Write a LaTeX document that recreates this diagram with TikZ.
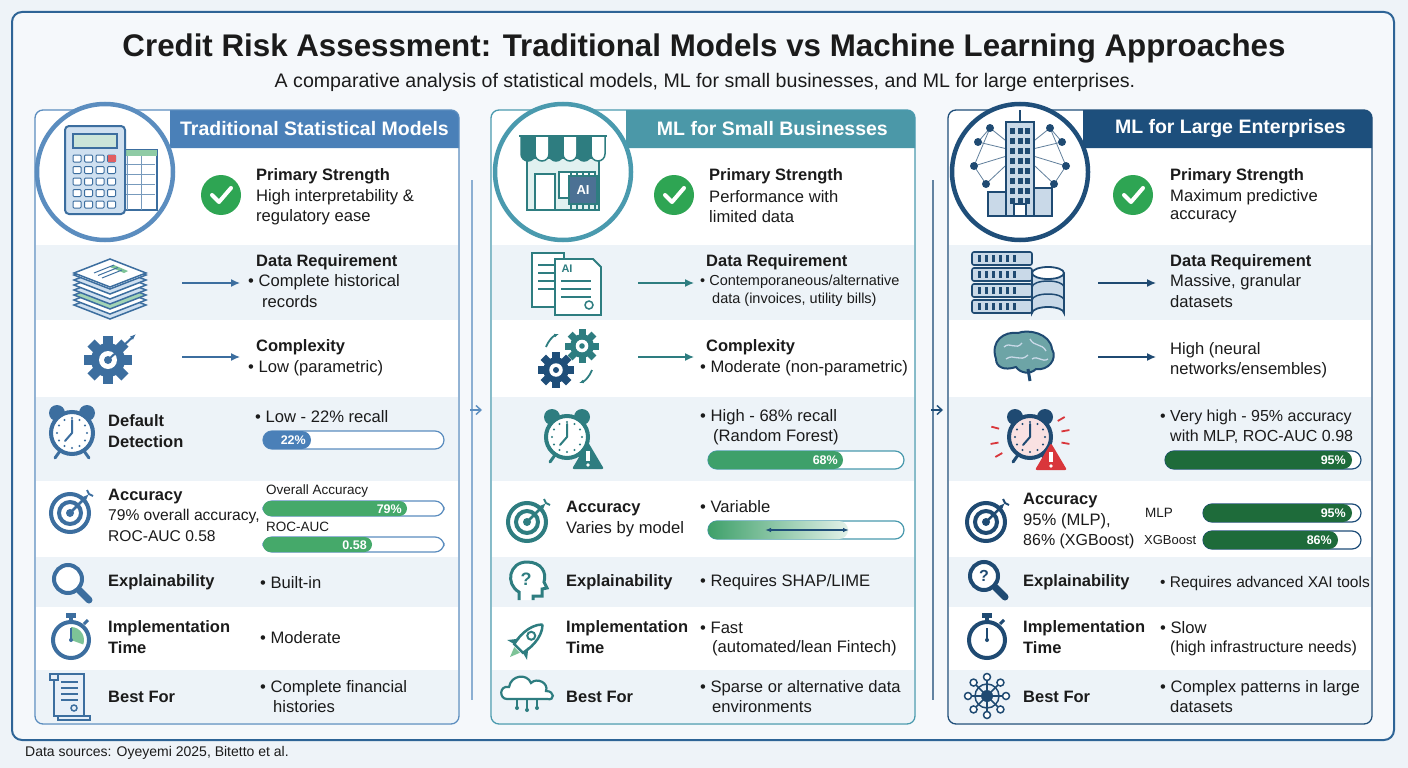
\documentclass[tikz,border=0pt]{standalone}
\usepackage{fontspec}
\setmainfont{Liberation Sans}
\usetikzlibrary{arrows.meta,calc}
\definecolor{bgc}{HTML}{EEF3F8}
\definecolor{framec}{HTML}{2E6496}
\definecolor{lightrow}{HTML}{EDF3F8}
\definecolor{txc}{HTML}{1B1B1B}
\definecolor{ca}{HTML}{3C6E9F}
\definecolor{cb}{HTML}{2E7D80}
\definecolor{cc}{HTML}{1F4A72}
\definecolor{cal}{HTML}{CFE0F0}
\definecolor{cbl}{HTML}{CDE8E6}
\definecolor{ccl}{HTML}{C9D9E8}
\definecolor{ha}{HTML}{4A80B8}
\definecolor{hb}{HTML}{4B98A8}
\definecolor{hc}{HTML}{1D4F7C}
\definecolor{pa}{HTML}{5B8DBF}
\definecolor{pb}{HTML}{4A9AAE}
\definecolor{pc}{HTML}{1F4E79}
\definecolor{ga}{HTML}{45A96A}
\definecolor{gb}{HTML}{3EA06A}
\definecolor{gc}{HTML}{1E6B3A}
\definecolor{chk}{HTML}{2EA553}
\definecolor{warnred}{HTML}{D9363B}
\tikzset{
  tx/.style={anchor=west, inner sep=0pt, text=txc, font=\fontsize{16.6}{18}\selectfont},
  lb/.style={anchor=west, inner sep=0pt, text=txc, font=\fontsize{16.5}{18}\selectfont\bfseries},
  sm/.style={anchor=west, inner sep=0pt, text=txc, font=\fontsize{13.5}{15}\selectfont},
  hdrtxt/.style={anchor=east, inner sep=0pt, text=white, font=\fontsize{19.5}{21}\selectfont\bfseries},
  bartrack/.style={draw=#1, line width=1.2pt, fill=white, rounded corners=9pt},
  barlbl/.style={anchor=east, inner sep=0pt, text=white, font=\fontsize{12.5}{14}\selectfont\bfseries},
  flowarrow/.style={-{Latex[length=9pt,width=8pt]}, line width=1.4pt, draw=#1},
  sepline/.style={draw=#1, line width=1.2pt},
}
% icons
\newcommand{\ICheck}[2]{\begin{scope}[shift={(#1,#2)}]
 \fill[chk] (0,0) circle (20);
 \draw[white, line width=4pt, line cap=round, line join=round] (-9,0)--(-2,7)--(10,-7);
\end{scope}}
\newcommand{\IGear}[4]{\begin{scope}[shift={(#1,#2)}, scale=#4]
 \fill[#3] (0,0) circle (17);
 \foreach \a in {0,45,...,315} \fill[#3,rotate=\a] (-5,-24) rectangle (5,-12);
 \fill[white] (0,0) circle (9);
 \fill[#3] (0,0) circle (4);
\end{scope}}
\newcommand{\IAlarm}[4]{\begin{scope}[shift={(#1,#2)}]
 \fill[#3] (-15,-20) circle (8); \fill[#3] (15,-20) circle (8);
 \draw[#3, line width=3pt, line cap=round] (-12,18)--(-17,25) (12,18)--(17,25);
 \draw[#3, line width=4pt, fill=#4] (0,0) circle (21);
 \foreach \a in {0,30,...,330} \fill[#3] (\a:15) circle (1.2);
 \draw[#3, line width=2pt, line cap=round] (0,0)--(0,-13) (0,0)--(-7,8);
\end{scope}}
\newcommand{\IWarn}[3]{\begin{scope}[shift={(#1,#2)}]
 \fill[#3, rounded corners=2pt] (0,-15)--(16,12)--(-16,12)--cycle;
 \fill[white] (-1.8,-6) rectangle (1.8,4); \fill[white] (0,8) circle (1.9);
\end{scope}}
\newcommand{\ITarget}[3]{\begin{scope}[shift={(#1,#2)}]
 \draw[#3, line width=4pt] (0,0) circle (19);
 \draw[#3, line width=4pt] (0,0) circle (11);
 \fill[#3] (0,0) circle (4);
 \draw[#3, line width=2.5pt, -{Latex[length=6pt]}] (0,0)--(19,-19);
 \draw[#3, line width=2pt] (17,-23)--(19,-19)--(23,-17);
\end{scope}}
\newcommand{\IMag}[3]{\begin{scope}[shift={(#1,#2)}]
 \draw[#3, line width=4pt, fill=white] (-4,-4) circle (14);
 \draw[#3, line width=7pt, line cap=round] (7,7)--(17,17);
\end{scope}}
\newcommand{\IWatch}[4]{\begin{scope}[shift={(#1,#2)}]
 \fill[#3] (-5,-27) rectangle (5,-22); \fill[#3] (-2,-23) rectangle (2,-18);
 \draw[#3, line width=3pt] (13,-16)--(17,-20);
 \draw[#3, line width=4pt, fill=white] (0,0) circle (18);
 \fill[#4] (0,0)--(-90:13) arc[start angle=-90, end angle=20, radius=13]--cycle;
 \draw[#3, line width=2pt] (0,0)--(0,-12); \fill[#3] (0,0) circle (2);
\end{scope}}
\newcommand{\IScroll}[3]{\begin{scope}[shift={(#1,#2)}]
 \draw[#3, line width=2pt, fill=cal!50] (-16,-22) rectangle (14,20);
 \draw[#3, line width=2pt, fill=cal!50] (-12,20) -- (20,20) -- (20,24) -- (-12,24) -- cycle;
 \draw[#3, line width=2pt, fill=cal!50] (-20,-22) rectangle (-12,-16);
 \foreach \yy in {-14,-8,-2,4} \draw[#3, line width=1.5pt] (-9,\yy)--(8,\yy);
 \draw[#3, line width=1.5pt] (4,12) circle (3);
\end{scope}}
\newcommand{\IStack}[1]{\begin{scope}[shift={(#1)}]
 \foreach \k/\f in {6/cal,5/white,4/ga!50,3/cal,2/white,1/cal,0/white}
   \draw[ca, line width=1.5pt, fill=\f] (-36,{-10+5*\k}) -- (0,{-24+5*\k}) -- (36,{-10+5*\k}) -- (0,{4+5*\k}) -- cycle;
 \draw[ca, line width=1.5pt, fill=white] (-36,-12) -- (0,-26) -- (36,-12) -- (0,2) -- cycle;
 \fill[ga!70] (4,-20)--(18,-14)--(14,-12)--(0,-18)--cycle;
 \foreach \k in {0,1,2} \draw[ca, line width=1pt] ({-16+4*\k},{-12+2.5*\k})--({4+4*\k},{-20+2.5*\k});
\end{scope}}
\begin{document}
\begin{tikzpicture}[x=1pt, y=-1pt]
\useasboundingbox (0,0) rectangle (1408,768);
\fill[bgc] (0,0) rectangle (1408,768);
\draw[framec, line width=2pt, fill=bgc!60!white, rounded corners=10pt] (12,12) rectangle (1394,740);
\node[font=\fontsize{31.3}{34}\selectfont\bfseries, text=txc] (title) at (704,48) {Credit Risk Assessment: Traditional Models vs Machine Learning Approaches};
\node[font=\fontsize{19.6}{22}\selectfont, text=txc] (subtitle) at (705,82) {A comparative analysis of statistical models, ML for small businesses, and ML for large enterprises.};
\node[anchor=west, inner sep=0pt, text=txc, font=\fontsize{14}{16}\selectfont] (src) at (25,753) {Data sources: Oyeyemi 2025, Bitetto et al.};

% panel frames and bands
\foreach \x/\pc/\hc/\hx in {35/pa/ha/170, 491/pb/hb/626, 948/pc/hc/1083} {
  \fill[white, rounded corners=8pt] (\x,110) rectangle (\x+424,724);
  \fill[\hc] (\hx,148) -- (\hx,110) [rounded corners=8pt]-- (\x+424,110) [sharp corners]-- (\x+424,148) -- cycle;
  \foreach \ya/\yb in {245/320, 397/481, 557/607}
     \fill[lightrow] (\x+1,\ya) rectangle (\x+423,\yb);
  \fill[lightrow] (\x+1,670) -- (\x+423,670) [rounded corners=7pt]-- (\x+423,723) -- (\x+1,723) [sharp corners]-- cycle;
  \draw[\pc, line width=1.3pt, rounded corners=8pt] (\x,110) rectangle (\x+424,724);
}
\node[hdrtxt] (h1) at (449,129) {Traditional Statistical Models};
\node[hdrtxt] (h2) at (888,129) {ML for Small Businesses};
\node[hdrtxt] (h3) at (1346,129) {ML for Large Enterprises};

% connectors between panels
\coordinate (s1a) at (472,180); \coordinate (s1b) at (472,700);
\coordinate (s1c) at (470,410); \coordinate (s1d) at (482,410);
\draw[sepline=pa!70] (s1a) -- (s1b);
\draw[-{Straight Barb[length=5pt,width=9pt]}, pa, line width=1.4pt] (s1c) -- (s1d);
\coordinate (s2a) at (933,180); \coordinate (s2b) at (933,700);
\coordinate (s2c) at (931,410); \coordinate (s2d) at (943,410);
\draw[sepline=pc!70] (s2a) -- (s2b);
\draw[-{Straight Barb[length=5pt,width=9pt]}, pc, line width=1.4pt] (s2c) -- (s2d);

%================ PANEL 1
\draw[pa, line width=4.5pt, fill=white] (105,172) circle (68);
\begin{scope}[shift={(105,172)}]
 \draw[ca, line width=1.5pt, fill=white] (8,-22) rectangle (52,38);
 \fill[ga!60] (8,-22) rectangle (52,-16);
 \foreach \yy in {-8,2,12,22} \draw[ca!70, line width=0.8pt] (10,\yy)--(50,\yy);
 \draw[ca!70, line width=0.8pt] (22,-16)--(22,38) (36,-16)--(36,38);
 \draw[ca, line width=2pt, fill=cal, rounded corners=4pt] (-40,-46) rectangle (20,42);
 \fill[cal!40!ga!40, draw=ca, line width=1.5pt] (-32,-38) rectangle (12,-24);
 \foreach \i in {0,1,2,3} \foreach \j in {0,1,2,3,4} {
   \fill[draw=ca, line width=1pt, fill=white, rounded corners=1pt] ({-32+\i*11.5},{-17+\j*11.5}) rectangle ({-24+\i*11.5},{-10+\j*11.5});
 }
 \fill[warnred!80] (2.5,-17) rectangle (10.5,-10);
\end{scope}
\ICheck{221}{195}
\node[lb] (p1s) at (256,176) {Primary Strength};
\node[tx] (p1s2) at (256,197) {High interpretability \&};
\node[tx] (p1s3) at (256,217) {regulatory ease};
% data req
\IStack{110,285}
\coordinate (a1s) at (182,283); \coordinate (a1e) at (240,283);
\draw[flowarrow=ca] (a1s) -- (a1e);
\node[lb] (p1d) at (256,262) {Data Requirement};
\node[tx] (p1d2) at (248,282) {\textbullet\ Complete historical};
\node[tx] (p1d3) at (262,302) {records};
% complexity
\IGear{108}{360}{ca}{1}
\draw[ca, line width=2pt, -{Latex[length=6pt]}] (108,360)--(136,334);
\coordinate (b1s) at (182,357); \coordinate (b1e) at (240,357);
\draw[flowarrow=ca] (b1s) -- (b1e);
\node[lb] (p1c) at (256,347) {Complexity};
\node[tx] (p1c2) at (248,368) {\textbullet\ Low (parametric)};
% default
\IAlarm{72}{433}{ca}{white}
\node[lb] (p1f) at (108,421) {Default};
\node[lb] (p1f2) at (108,442) {Detection};
\node[tx] (p1f3) at (255,417) {\textbullet\ Low - 22\% recall};
\draw[bartrack=pa] (263,431) rectangle (444,449);
\fill[ha, rounded corners=9pt] (263,431) rectangle (311,449);
\node[barlbl] (p1fb) at (306,440) {22\%};
% accuracy
\ITarget{70}{513}{ca}
\node[lb] (p1a) at (108,497) {Accuracy};
\node[tx, font=\fontsize{15.6}{17}\selectfont] (p1a2) at (108,516) {79\% overall accuracy,};
\node[tx, font=\fontsize{15.6}{17}\selectfont] (p1a3) at (108,536) {ROC-AUC 0.58};
\node[sm] (p1a4) at (266,491) {Overall Accuracy};
\draw[bartrack=pa] (263,501) rectangle (444,516);
\fill[ga, rounded corners=7.5pt] (263,501) rectangle (407,516);
\node[barlbl] (p1ab) at (402,509) {79\%};
\node[sm] (p1a5) at (266,527) {ROC-AUC};
\draw[bartrack=pa] (263,537) rectangle (444,552);
\fill[ga, rounded corners=7.5pt] (263,537) rectangle (372,552);
\node[barlbl] (p1ab2) at (367,545) {0.58};
% explain
\IMag{72}{583}{ca}
\node[lb] (p1e) at (108,582) {Explainability};
\node[tx] (p1e2) at (260,583) {\textbullet\ Built-in};
% impl
\IWatch{71}{640}{ca}{ga!70}
\node[lb] (p1i) at (108,628) {Implementation};
\node[lb] (p1i2) at (108,648) {Time};
\node[tx] (p1i3) at (260,638) {\textbullet\ Moderate};
% best
\IScroll{70}{696}{ca}
\node[lb] (p1b) at (108,697) {Best For};
\node[tx] (p1b2) at (260,688) {\textbullet\ Complete financial};
\node[tx] (p1b3) at (273,707) {histories};

%================ PANEL 2
\draw[pb, line width=4.5pt, fill=white] (563,172) circle (68);
\begin{scope}[shift={(563,172)}]
 \draw[cb, line width=2pt, fill=cbl!60] (-36,-14) rectangle (36,38);
 \foreach \i in {0,...,5} {
   \pgfmathsetmacro{\xa}{-42+\i*14}
   \ifodd\i \def\fc{white}\else\def\fc{cb}\fi
   \draw[cb, line width=1.5pt, fill=\fc] (\xa,-36) -- (\xa+14,-36) -- (\xa+14,-18) arc[start angle=0,end angle=180,radius=7] -- cycle;
 }
 \draw[cb, line width=2pt] (-44,-36)--(44,-36);
 \draw[cb, line width=2pt, fill=white] (-28,2) rectangle (-8,38);
 \draw[cb, line width=2pt, fill=white] (-4,0) rectangle (32,26);
 \draw[cb, line width=2pt, fill=pc!80] (6,4) rectangle (34,32);
 \foreach \t in {8,14,20,26,32} { \draw[cb, line width=1.2pt] (\t,4)--(\t,-1) (\t,32)--(\t,37); }
 \node[text=white, font=\fontsize{13}{14}\selectfont\bfseries] (p2ai) at (20,18) {AI};
\end{scope}
\ICheck{674}{195}
\node[lb] (p2s) at (709,176) {Primary Strength};
\node[tx] (p2s2) at (709,197) {Performance with};
\node[tx] (p2s3) at (709,217) {limited data};
% data
\begin{scope}[shift={(567,283)}]
 \draw[cb, line width=1.8pt, fill=white] (-35,-30) rectangle (-3,24);
 \foreach \yy in {-18,-10,-2,6} \draw[cb, line width=1.5pt] (-29,\yy)--(-9,\yy);
 \draw[cb, line width=1.8pt, fill=white] (-12,-24) -- (26,-24) -- (34,-16) -- (34,32) -- (-12,32) -- cycle;
 \node[text=cb, font=\fontsize{11}{12}\selectfont\bfseries] (p2docai) at (0,-14) {AI};
 \foreach \yy in {-2,6,14} \draw[cb, line width=1.5pt] (-6,\yy)--(24,\yy);
 \draw[cb, line width=1.5pt] (22,22) circle (4);
\end{scope}
\coordinate (a2s) at (638,283); \coordinate (a2e) at (694,283);
\draw[flowarrow=cb] (a2s) -- (a2e);
\node[lb] (p2d) at (706,262) {Data Requirement};
\node[tx, font=\fontsize{14.5}{16}\selectfont] (p2d2) at (700,282) {\textbullet\ Contemporaneous/alternative};
\node[tx, font=\fontsize{14.5}{16}\selectfont] (p2d3) at (712,300) {data (invoices, utility bills)};
% complexity
\IGear{582}{346}{cb}{0.7}
\IGear{556}{370}{pc}{0.75}
\draw[cb, line width=1.8pt, -{Latex[length=5pt]}] (546,347) arc[start angle=200, end angle=250, radius=22];
\draw[cb, line width=1.8pt, -{Latex[length=5pt]}] (592,370) arc[start angle=20, end angle=70, radius=22];
\coordinate (b2s) at (638,357); \coordinate (b2e) at (694,357);
\draw[flowarrow=cb] (b2s) -- (b2e);
\node[lb] (p2c) at (706,347) {Complexity};
\node[tx] (p2c2) at (700,368) {\textbullet\ Moderate (non-parametric)};
% default
\IAlarm{567}{437}{cb}{white}
\IWarn{588}{457}{cb}
\node[tx] (p2f) at (700,417) {\textbullet\ High - 68\% recall};
\node[tx] (p2f2) at (713,437) {(Random Forest)};
\draw[bartrack=pb] (708,451) rectangle (904,469);
\fill[gb, rounded corners=9pt] (708,451) rectangle (843,469);
\node[barlbl] (p2fb) at (838,460) {68\%};
% accuracy
\ITarget{527}{522}{cb}
\node[lb] (p2a) at (566,509) {Accuracy};
\node[tx] (p2a2) at (566,529) {Varies by model};
\node[tx] (p2a3) at (700,507) {\textbullet\ Variable};
\draw[bartrack=pb] (708,521) rectangle (904,539);
\shade[left color=gb, right color=gb!15, rounded corners=9pt] (708,521) rectangle (848,539);
\coordinate (va) at (765,530); \coordinate (vb) at (849,530);
\draw[{Latex[length=6pt]}-{Latex[length=6pt]}, pc, line width=1.6pt] (va) -- (vb);
% explain
\begin{scope}[shift={(527,582)}]
 \draw[cb, line width=3pt, fill=white] (-8,18) -- (-8,10) .. controls (-22,2) and (-18,-20) .. (0,-20) .. controls (14,-20) and (20,-10) .. (17,0) -- (20,6) -- (15,7) -- (15,14) -- (6,14) -- (6,18);
 \node[text=cb, font=\fontsize{18}{18}\selectfont\bfseries] (p2q) at (-1,-3) {?};
\end{scope}
\node[lb] (p2e) at (566,582) {Explainability};
\node[tx] (p2e2) at (700,582) {\textbullet\ Requires SHAP/LIME};
% impl
\begin{scope}[shift={(527,640)}, rotate=-45]
 \draw[cb, line width=2.5pt, fill=white] (0,-22) .. controls (10,-12) and (8,6) .. (6,12) -- (-6,12) .. controls (-8,6) and (-10,-12) .. (0,-22);
 \draw[cb, line width=2pt] (0,-6) circle (4);
 \fill[cb] (-6,4) -- (-14,14) -- (-6,12) -- cycle; \fill[cb] (6,4) -- (14,14) -- (6,12) -- cycle;
 \fill[ga!70] (-4,14) -- (0,24) -- (4,14) -- cycle;
\end{scope}
\node[lb] (p2i) at (566,628) {Implementation};
\node[lb] (p2i2) at (566,648) {Time};
\node[tx] (p2i3) at (700,628) {\textbullet\ Fast};
\node[tx] (p2i4) at (712,648) {(automated/lean Fintech)};
% best
\begin{scope}[shift={(527,693)}]
 \draw[cb, line width=2.2pt, fill=white] (-20,6) .. controls (-28,6) and (-28,-8) .. (-18,-6) .. controls (-16,-18) and (0,-20) .. (4,-10) .. controls (10,-16) and (22,-10) .. (19,-2) .. controls (28,-2) and (28,8) .. (20,6) -- cycle;
 \draw[cb, line width=1.5pt] (-10,6)--(-10,14) (0,6)--(0,16) (10,6)--(10,14);
 \fill[cb] (-10,15) circle (2) (0,17) circle (2) (10,15) circle (2);
\end{scope}
\node[lb] (p2b) at (566,697) {Best For};
\node[tx] (p2b2) at (700,688) {\textbullet\ Sparse or alternative data};
\node[tx] (p2b3) at (712,707) {environments};

%================ PANEL 3
\draw[pc, line width=4.5pt, fill=white] (1020,172) circle (68);
\begin{scope}[shift={(1020,172)}]
 \foreach \p in {(-42,-30),(-30,-44),(-46,-6),(-34,12),(42,-30),(30,-44),(46,-6),(34,12)} \draw[cc!70, line width=0.8pt] \p -- (0,-20);
 \draw[cc!70, line width=0.8pt] (-42,-30)--(-30,-44)--(-46,-6)--(-34,12) (42,-30)--(30,-44)--(46,-6)--(34,12);
 \foreach \p in {(-42,-30),(-30,-44),(-46,-6),(-34,12),(42,-30),(30,-44),(46,-6),(34,12)} \fill[cc] \p circle (4);
 \draw[cc, line width=2pt, fill=ccl] (-14,-50) -- (14,-50) -- (14,44) -- (-14,44) -- cycle;
 \draw[cc, line width=2pt] (0,-62)--(0,-50);
 \foreach \j in {0,...,7} \foreach \i in {0,1,2} \fill[cc] ({-10+\i*7.5},{-44+\j*10}) rectangle ({-5+\i*7.5},{-38+\j*10});
 \draw[cc, line width=2pt, fill=ccl] (-32,20) rectangle (-14,44);
 \draw[cc, line width=2pt, fill=ccl] (14,16) rectangle (32,44);
 \draw[cc, line width=2pt, fill=white] (-6,32) rectangle (6,44);
\end{scope}
\ICheck{1133}{195}
\node[lb] (p3s) at (1170,176) {Primary Strength};
\node[tx] (p3s2) at (1170,197) {Maximum predictive};
\node[tx] (p3s3) at (1170,217) {accuracy};
% data
\begin{scope}[shift={(1022,285)}]
 \foreach \k in {0,1,2,3} {
   \draw[cc, line width=1.6pt, fill=ccl, rounded corners=2pt] (-50,{-33+\k*16}) rectangle (10,{-20+\k*16});
   \foreach \i in {0,...,5} \fill[cc] ({-44+\i*7},{-30+\k*16}) rectangle ({-41+\i*7},{-23+\k*16});
 }
 \draw[cc, line width=1.8pt, fill=ccl] (10,-12) -- (10,28) arc[start angle=180, end angle=0, x radius=16, y radius=-6] -- (42,-12);
 \draw[cc, line width=1.8pt, fill=white] (26,-12) ellipse (16 and 6);
 \draw[cc, line width=1.5pt] (10,2) arc[start angle=180, end angle=0, x radius=16, y radius=-6];
 \draw[cc, line width=1.5pt] (10,15) arc[start angle=180, end angle=0, x radius=16, y radius=-6];
\end{scope}
\coordinate (a3s) at (1098,283); \coordinate (a3e) at (1156,283);
\draw[flowarrow=cc] (a3s) -- (a3e);
\node[lb] (p3d) at (1170,262) {Data Requirement};
\node[tx] (p3d2) at (1170,282) {Massive, granular};
\node[tx] (p3d3) at (1170,302) {datasets};
% brain
\begin{scope}[shift={(1024,355)}]
 \draw[cc, line width=2pt, fill=cb!70] (-28,4) .. controls (-34,-14) and (-20,-24) .. (-6,-22) .. controls (4,-26) and (26,-22) .. (28,-6) .. controls (34,4) and (24,16) .. (12,14) .. controls (6,20) and (-4,18) .. (-8,12) .. controls (-20,16) and (-28,12) .. (-28,4) -- cycle;
 \draw[ccl, line width=1.3pt] (-20,-8) .. controls (-14,-14) and (-8,-4) .. (-2,-12) (-18,4) .. controls (-10,-2) and (-4,8) .. (4,0) (6,-16) .. controls (10,-8) and (18,-12) .. (22,-4) (8,4) .. controls (14,0) and (18,8) .. (24,4);
 \draw[cc, line width=3pt] (4,14)--(6,26);
\end{scope}
\coordinate (b3s) at (1098,357); \coordinate (b3e) at (1156,357);
\draw[flowarrow=cc] (b3s) -- (b3e);
\node[tx] (p3c) at (1170,350) {High (neural};
\node[tx] (p3c2) at (1170,370) {networks/ensembles)};
% default
\foreach \a in {150,170,195,10,-10,-30} \draw[warnred, line width=1.8pt] ($(1030,437)+(\a:32)$) -- ($(1030,437)+(\a:40)$);
\IAlarm{1030}{437}{cc}{warnred!15}
\IWarn{1051}{458}{warnred}
\node[tx, font=\fontsize{16}{18}\selectfont] (p3f) at (1160,417) {\textbullet\ Very high - 95\% accuracy};
\node[tx, font=\fontsize{16}{18}\selectfont] (p3f2) at (1170,437) {with MLP, ROC-AUC 0.98};
\draw[bartrack=pc] (1165,451) rectangle (1361,469);
\fill[gc, rounded corners=9pt] (1165,451) rectangle (1352,469);
\node[barlbl] (p3fb) at (1346,460) {95\%};
% accuracy
\ITarget{986}{522}{cc}
\node[lb] (p3a) at (1023,501) {Accuracy};
\node[tx] (p3a2) at (1023,521) {95\% (MLP),};
\node[tx, font=\fontsize{16}{18}\selectfont] (p3a3) at (1023,541) {86\% (XGBoost)};
\node[sm] (p3m) at (1145,513) {MLP};
\draw[bartrack=pc] (1203,504) rectangle (1361,522);
\fill[gc, rounded corners=9pt] (1203,504) rectangle (1352,522);
\node[barlbl] (p3mb) at (1346,513) {95\%};
\node[sm, font=\fontsize{13}{15}\selectfont] (p3x) at (1144,540) {XGBoost};
\draw[bartrack=pc] (1203,531) rectangle (1361,549);
\fill[gc, rounded corners=9pt] (1203,531) rectangle (1338,549);
\node[barlbl] (p3xb) at (1332,540) {86\%};
% explain
\IMag{988}{580}{cc}
\node[text=cc, font=\fontsize{16}{16}\selectfont\bfseries] (p3q) at (984,576) {?};
\node[lb] (p3e) at (1023,582) {Explainability};
\node[tx, font=\fontsize{15.5}{17}\selectfont] (p3e2) at (1160,583) {\textbullet\ Requires advanced XAI tools};
% impl
\IWatch{987}{640}{cc}{white}
\node[lb] (p3i) at (1023,628) {Implementation};
\node[lb] (p3i2) at (1023,648) {Time};
\node[tx] (p3i3) at (1160,628) {\textbullet\ Slow};
\node[tx, font=\fontsize{16}{18}\selectfont] (p3i4) at (1170,648) {(high infrastructure needs)};
% best: network
\begin{scope}[shift={(987,696)}]
 \foreach \a in {0,45,...,315} { \draw[cc, line width=1.5pt] (0,0) -- (\a:18); \draw[cc, line width=1.5pt, fill=white] (\a:19) circle (3.5); }
 \draw[cc, line width=1.5pt] (0,0) circle (12);
 \fill[cc] (0,0) circle (6);
\end{scope}
\node[lb] (p3b) at (1023,697) {Best For};
\node[tx] (p3b2) at (1160,688) {\textbullet\ Complex patterns in large};
\node[tx] (p3b3) at (1170,707) {datasets};
\end{tikzpicture}
\end{document}
